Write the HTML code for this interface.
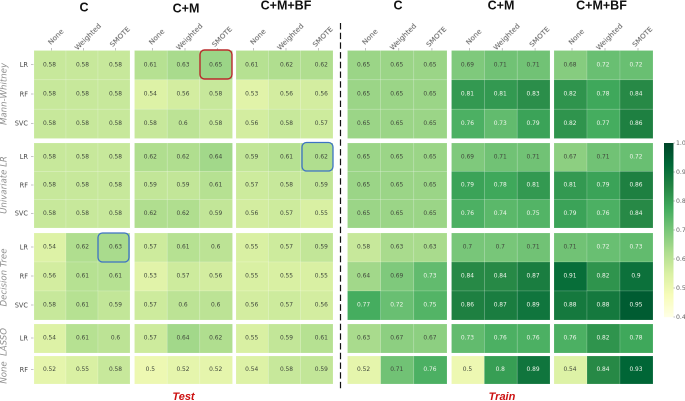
<!DOCTYPE html>
<html lang="en">
<head>
<meta charset="utf-8">
<title>Heatmaps of test and train performance</title>
<style>
  html, body { margin: 0; padding: 0; background: #fff; }
  body { width: 685px; height: 401px; overflow: hidden; }
  svg { display: block; }
  .val { font: 5.9px "DejaVu Sans", sans-serif; text-anchor: middle; filter: url(#soft); }
  .tick { font: 7.2px "DejaVu Sans", sans-serif; fill: #555; filter: url(#soft); }
  .ytick { font: 6.6px "DejaVu Sans", sans-serif; fill: #4a4a4a; filter: url(#soft); }
  .grp { font: italic 8.6px "DejaVu Sans", sans-serif; fill: #8f8f8f; text-anchor: middle; filter: url(#soft); }
  .title { font: bold 12.5px "Liberation Sans", sans-serif; fill: #111; text-anchor: middle; }
  .side { font: italic bold 11px "Liberation Sans", sans-serif; fill: #cc1111; text-anchor: middle; }
  .cb { font: 6.2px "DejaVu Sans", sans-serif; fill: #666; filter: url(#soft); }
</style>
</head>
<body>
<svg id="chart" width="685" height="401" viewBox="0 0 685 401" xmlns="http://www.w3.org/2000/svg">
  <defs>
    <filter id="soft" x="-10%" y="-10%" width="120%" height="120%"><feGaussianBlur stdDeviation="0.22"/></filter>
  </defs>
</svg>
<script>
/* ---------- data ---------- */
const sides = ['Test', 'Train'];
const featureSets = ['C', 'C+M', 'C+M+BF'];
const samplers = ['None', 'Weighted', 'SMOTE'];
const selectors = ['Mann-Whitney', 'Univariate LR', 'Decision Tree', 'LASSO', 'None'];
const modelsBySelector = [['LR','RF','SVC'], ['LR','RF','SVC'], ['LR','RF','SVC'], ['LR'], ['RF']];
const colorbarTicks = [0.4, 0.5, 0.6, 0.7, 0.8, 0.9, 1.0];

const testMann = [
  [[.58,.58,.58],[.58,.58,.58],[.58,.58,.58]],
  [[.61,.63,.65],[.54,.56,.58],[.58,.6,.58]],
  [[.61,.62,.62],[.53,.56,.56],[.56,.58,.57]]
];
const testUni = [
  [[.58,.58,.58],[.58,.58,.58],[.58,.58,.58]],
  [[.62,.62,.64],[.59,.59,.61],[.62,.62,.59]],
  [[.59,.61,.62],[.57,.58,.59],[.56,.57,.55]]
];
const testTree = [
  [[.54,.62,.63],[.56,.61,.61],[.58,.61,.59]],
  [[.57,.61,.6],[.53,.57,.56],[.57,.6,.6]],
  [[.55,.57,.59],[.55,.55,.55],[.56,.57,.56]]
];
const testLasso = [ [[.54,.61,.6]], [[.57,.64,.62]], [[.55,.59,.61]] ];
const testNone = [ [[.52,.55,.58]], [[.5,.52,.52]], [[.54,.58,.59]] ];

const trainMann = [
  [[.65,.65,.65],[.65,.65,.65],[.65,.65,.65]],
  [[.69,.71,.71],[.81,.81,.83],[.76,.73,.79]],
  [[.68,.72,.72],[.82,.78,.84],[.82,.77,.86]]
];
const trainUni = [
  [[.65,.65,.65],[.65,.65,.65],[.65,.65,.65]],
  [[.69,.71,.71],[.79,.78,.81],[.76,.74,.75]],
  [[.67,.71,.72],[.81,.79,.86],[.79,.76,.84]]
];
const trainTree = [
  [[.58,.63,.63],[.64,.69,.73],[.77,.72,.75]],
  [[.7,.7,.71],[.84,.84,.87],[.86,.87,.89]],
  [[.71,.72,.73],[.91,.82,.9],[.88,.88,.95]]
];
const trainLasso = [ [[.63,.67,.67]], [[.73,.76,.76]], [[.76,.82,.78]] ];
const trainNone = [ [[.52,.71,.76]], [[.5,.8,.89]], [[.54,.84,.93]] ];

const testValues = [testMann, testUni, testTree, testLasso, testNone];
const trainValues = [trainMann, trainUni, trainTree, trainLasso, trainNone];

/* ---------- layout (not data) ---------- */
const panelBands = [
  [[34,130],[134.5,232.5],[236,333]],
  [[347.5,447],[451.5,550],[554,653]]
];
const valueNudge = [[1,0,2.5],[0,0,0]];
const selectorBands = [[50.5,138.5],[143,228],[233,320],[324,353],[356,384]];
const selectorLabelNudge = [0, 0, 1.5, 4, 3];
const titleLayout = [[84,11.5],[186,12.5],[286,9.5],[398,9.5],[501,9.5],[601.5,9.5]];
const ramp = ['#ffffe5','#f7fcb9','#d9f0a3','#addd8e','#78c679','#41ab5d','#238443','#006837','#004529'];

/* ---------- helpers ---------- */
const NS = 'http://www.w3.org/2000/svg';
const svg = document.getElementById('chart');
function make(tag, attrs, text) {
  const el = document.createElementNS(NS, tag);
  for (const k in attrs) el.setAttribute(k, attrs[k]);
  if (text !== undefined) el.textContent = text;
  svg.appendChild(el);
  return el;
}
function hex(c) { return [1,3,5].map(i => parseInt(c.substr(i,2),16)); }
function colorFor(v) {
  const t = Math.max(0, Math.min(1, (v - 0.4) / 0.6)) * (ramp.length - 1);
  const i = Math.min(ramp.length - 2, Math.floor(t));
  const f = t - i;
  const a = hex(ramp[i]), b = hex(ramp[i + 1]);
  return 'rgb(' + a.map((x, j) => Math.round(x + (b[j] - x) * f)).join(',') + ')';
}
function xCell(band, col) { return band[0] + (band[1] - band[0]) * col / samplers.length; }
function yCell(band, row, n) { return band[0] + (band[1] - band[0]) * row / n; }
function colorbarY(v) { return 317 - (v - 0.4) / 0.6 * 174; }

/* ---------- titles ---------- */
featureSets.concat(featureSets).forEach(function (name, i) {
  const t = make('text', { x: titleLayout[i][0], y: titleLayout[i][1], class: 'title' }, name);
  
  
});

/* ---------- heatmap cells ---------- */
sides.forEach(function (side, s) {
  const matrix = s === 0 ? testValues : trainValues;
  panelBands[s].forEach(function (xBand, p) {
    samplers.forEach(function (label, c) {
      const cx = xCell(xBand, c + 0.5);
      const tickX = cx + 1.5;
      const tk = make('line', { x1: tickX, x2: tickX, y1: 48, y2: 50.5, stroke: '#aaa', 'stroke-width': 0.7 });
      
      
      const tl = make('text', { class: 'tick', 'text-anchor': 'middle', transform: 'translate(' + (tickX + 6) + ',38.5) rotate(-45)' }, label);
      
      
    });
    selectorBands.forEach(function (yBand, g) {
      const rows = matrix[g][p];
      rows.forEach(function (rowValues, r) {
        rowValues.forEach(function (v, c) {
          const x0 = xCell(xBand, c), x1 = xCell(xBand, c + 1);
          const y0 = yCell(yBand, r, rows.length), y1 = yCell(yBand, r + 1, rows.length);
          const cell = make('rect', { x: x0, y: y0, width: x1 - x0, height: y1 - y0, fill: colorFor(v), stroke: 'rgba(255,255,255,0.28)', 'stroke-width': 0.5 });
          
          
          const label = make('text', { x: (x0 + x1) / 2 - 0.5 + c * valueNudge[s][p], y: (y0 + y1) / 2 + 1.2, class: 'val', fill: v >= 0.72 ? '#eef5ea' : '#3f473b' }, String(v));
          
          
        });
      });
    });
  });
});

/* ---------- row labels ---------- */
selectorBands.forEach(function (yBand, g) {
  const models = modelsBySelector[g];
  models.forEach(function (m, r) {
    const y = yCell(yBand, r + 0.5, models.length) - 0.5;
    const tk = make('line', { x1: 31, x2: 33.5, y1: y, y2: y, stroke: '#aaa', 'stroke-width': 0.7 });
    
    
    const tl = make('text', { x: 28, y: y + 2.4, class: 'ytick', 'text-anchor': 'end' }, m);
    
    
  });
  const cy = (yBand[0] + yBand[1]) / 2 + selectorLabelNudge[g];
  const gl = make('text', { class: 'grp', transform: 'translate(6.5,' + (cy - 0.5) + ') rotate(-90)' }, selectors[g]);
  
  
});

/* ---------- highlights ---------- */
const hlRed = make('rect', { x: 200, y: 50, width: 32, height: 29, rx: 4.5, fill: 'none', stroke: '#b92a2a', 'stroke-width': 1.4 });


const hlBlue1 = make('rect', { x: 302, y: 142.5, width: 31, height: 28.5, rx: 4.5, fill: 'none', stroke: '#3d72c4', 'stroke-width': 1.3 });


const hlBlue2 = make('rect', { x: 98, y: 233, width: 31, height: 29, rx: 4.5, fill: 'none', stroke: '#3d72c4', 'stroke-width': 1.3 });



/* ---------- divider ---------- */
const divider = make('line', { x1: 340.5, x2: 340.5, y1: 23, y2: 390, stroke: '#111', 'stroke-width': 1.2, 'stroke-dasharray': '6.4 3.3' });



/* ---------- side labels ---------- */
const testLabel = make('text', { x: 183.5, y: 400, class: 'side' }, sides[0]);


const trainLabel = make('text', { x: 502, y: 400, class: 'side' }, sides[1]);



/* ---------- colorbar ---------- */
for (let y = 143; y < 317; y++) {
  const v = 0.4 + (317 - y - 0.5) / 174 * 0.6;
  const seg = make('rect', { x: 664, y: y, width: 9.5, height: 1.2, fill: colorFor(v) });
  
  
}
colorbarTicks.forEach(function (v) {
  const y = colorbarY(v);
  const tk = make('line', { x1: 673.5, x2: 675, y1: y, y2: y, stroke: '#999', 'stroke-width': 0.6 });
  
  
  const tl = make('text', { x: 676, y: y + 2.2, class: 'cb' }, v.toFixed(1));
  
  
});
</script>
</body>
</html>
